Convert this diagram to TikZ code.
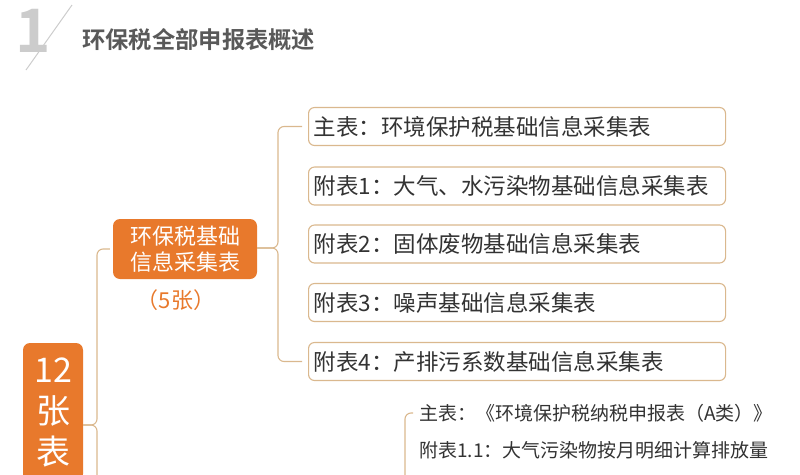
\documentclass[tikz,border=0pt]{standalone}
\usepackage{fontspec}
\setmainfont{Noto Sans CJK SC}
\newfontfamily\cjkbold{Noto Sans CJK SC Bold}
\definecolor{orangefill}{HTML}{E8792C}
\definecolor{tanline}{HTML}{DAB88E}
\definecolor{textgray}{HTML}{333333}
\definecolor{titlegray}{HTML}{595959}
\definecolor{lightgray}{HTML}{CCCCCC}
\tikzset{
  conn/.style={draw=tanline, line width=1.1pt, rounded corners=6pt},
  tablebox/.style={draw=tanline, line width=1.1pt, fill=white, rounded corners=6pt,
    minimum width=417pt, minimum height=38pt, text width=407pt, align=left,
    inner xsep=4pt, inner ysep=0pt, anchor=west, text=textgray,
    font=\fontsize{22.5pt}{26pt}\selectfont},
  orangebox/.style={fill=orangefill, rounded corners=7pt, text=white, align=center,
    inner sep=0pt},
  plaintext/.style={anchor=west, text=textgray, inner sep=0pt,
    font=\fontsize{19pt}{22pt}\selectfont}
}
\begin{document}
\begin{tikzpicture}[x=1pt,y=-1pt]
\useasboundingbox (0,0) rectangle (800,474);
\clip (0,0) rectangle (800,474);
% title
\node[text=lightgray, inner sep=0pt, font=\cjkbold\fontsize{60pt}{60pt}\selectfont] (one) at (33,31) {1};
\draw[lightgray, line width=1pt] (72,5) -- (26,70);
\node[anchor=west, inner sep=0pt, text=titlegray, font=\cjkbold\fontsize{23.3pt}{25pt}\selectfont] (title) at (82,40) {环保税全部申报表概述};
% root
\node[orangebox, minimum width=60pt, minimum height=138pt,
  font=\fontsize{34pt}{41pt}\selectfont] (t12) at (53,412) {12\\张\\表};
% level 2
\node[orangebox, minimum width=144pt, minimum height=60pt,
  font=\fontsize{22pt}{26pt}\selectfont] (b2) at (185,249) {环保税基础\\信息采集表};
\node[text=orangefill, inner sep=0pt, font=\fontsize{22pt}{24pt}\selectfont] (cnt) at (176,300) {（5张）};
% tables
\node[tablebox] (m1) at (308,126.5) {主表：环境保护税基础信息采集表};
\node[tablebox] (m2) at (308,186) {附表1：大气、水污染物基础信息采集表};
\node[tablebox] (m3) at (308,244) {附表2：固体废物基础信息采集表};
\node[tablebox] (m4) at (308,302.5) {附表3：噪声基础信息采集表};
\node[tablebox] (m5) at (308,361.5) {附表4：产排污系数基础信息采集表};
% lower list
\node[plaintext] (s1) at (419,413) {主表：《环境保护税纳税申报表（A类）》};
\node[plaintext] (s2) at (419,450) {附表1.1：大气污染物按月明细计算排放量};
% connectors
\coordinate (j1) at (97,425);
\coordinate (j1end) at (97,490);
\coordinate (j2) at (278,248);
\coordinate (j3end) at (405,490);
\draw[conn, shorten >=3pt] (t12.east |- j1) -- (j1) |- (b2.west);
\draw[conn] (t12.east |- j1) -- (j1) -- (j1end);
\draw[conn, shorten >=6pt] (b2.east |- j2) -- (j2) |- (m1.west);
\draw[conn, shorten >=6pt] (b2.east |- j2) -- (j2) |- (m5.west);
\draw[conn, shorten >=6pt] (j3end) |- (s1.west);
\end{tikzpicture}
\end{document}
